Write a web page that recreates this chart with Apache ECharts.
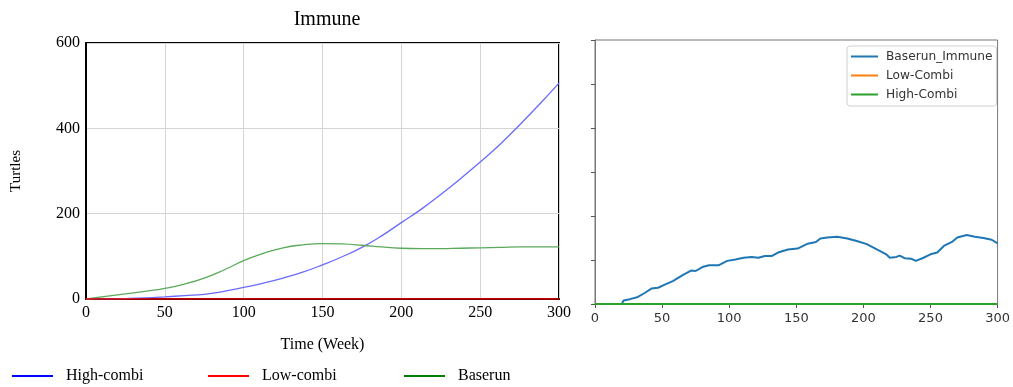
<!DOCTYPE html>
<html>
<head>
<meta charset="utf-8">
<script src="https://cdn.jsdelivr.net/npm/echarts@6/dist/echarts.min.js"></script>
<style>html,body{margin:0;padding:0;background:#fff}#c{width:1013px;height:387px}</style>
</head>
<body>
<div id="c"></div>
<script>
// Left panel (Immune)
const timeL = [0,12.5,25,37.5,50,62.5,75,87.5,100,112.5,125,137.5,150,162.5,175,187.5,200,212.5,225,237.5,250,262.5,275,287.5,300];
const highCombi = [0,0.3,1,2.5,5,8,11,18,27,37,49,63,80,99,121,148,179,210,245,282,321,362,408,456,506];
const lowCombi = [0,0,0,0,0,0,0,0,0,0,0,0,0,0,0,0,0,0,0,0,0,0,0,0,0];
const baserun = [0,6,12,18,25,35,49,68,90,107,120,127,130,129,126,122,119,118,118,119,120,121,122,122,122];
const xTicksL = [0,50,100,150,200,250,300];
const yTicksL = [0,200,400,600];

// Right panel
const timeR = [20,21.3,26,32,37,42,47,52,58,65,71.5,75,80,85,92,98.5,104.6,110.7,116.8,121.7,126.6,131.5,136.4,143.8,151,158.5,164.6,168,173,180.5,188,195,202.5,210,217,219.7,224.6,227,230.7,235.6,239,244,250,255,260,266,270,277,283,289.5,295.6,300];
const baserunImmune = [0,8,11,16,25,35,37,44,52,65,76,75,84,88,88,98,101,105,107,105,109,109,117,124,126,137,141,149,151,153,149,143,136,124,113,105,107,110,104,103,98,104,113,117,132,141,151,157,153,150,146,138];
const timeR2 = [0,300];
const lowCombiR = [0,0];
const highCombiR = [0,0];

const pairs = (xs, ys) => xs.map((x, i) => [x, ys[i]]);
const serif = 'Liberation Serif';
const sans = 'DejaVu Sans';

const chart = echarts.init(document.getElementById('c'), null, {renderer: 'canvas'});
chart.setOption({
  animation: false,
  backgroundColor: '#fff',
  title: {
    text: 'Immune', left: 322, top: 5, textAlign: 'center',
    textStyle: {fontFamily: serif, fontSize: 20, fontWeight: 'normal', color: '#000'}
  },
  legend: [
    {left: 7, top: 363, icon: 'rect', itemWidth: 41, itemHeight: 2,
     data: [{name: 'High-combi', itemStyle: {color: '#0000ff'}}],
     textStyle: {fontFamily: serif, fontSize: 16, color: '#000', padding: [0,0,0,8]}},
    {left: 203, top: 363, icon: 'rect', itemWidth: 41, itemHeight: 2,
     data: [{name: 'Low-combi', itemStyle: {color: '#ff0000'}}],
     textStyle: {fontFamily: serif, fontSize: 16, color: '#000', padding: [0,0,0,8]}},
    {left: 399, top: 363, icon: 'rect', itemWidth: 41, itemHeight: 2,
     data: [{name: 'Baserun', itemStyle: {color: '#008000'}}],
     textStyle: {fontFamily: serif, fontSize: 16, color: '#000', padding: [0,0,0,8]}},
    {left: 847, top: 46, orient: 'vertical', icon: 'rect', itemWidth: 27, itemHeight: 2,
     itemGap: 6, padding: [4, 4, 5, 4],
     backgroundColor: '#fff', borderColor: '#d0d0d0', borderWidth: 1, borderRadius: 3,
     data: ['Baserun_Immune', 'Low-Combi', 'High-Combi'],
     textStyle: {fontFamily: sans, fontSize: 12.2, color: '#333', padding: [0,0,0,3], lineHeight: 13}}
  ],
  grid: [
    {left: 86, right: 1013 - 559, top: 43, bottom: 387 - 299, show: true, borderColor: '#000', borderWidth: 2, backgroundColor: 'transparent'},
    {left: 595, right: 1013 - 1002, top: 40, bottom: 387 - 304, show: true, borderColor: '#777', borderWidth: 1}
  ],
  xAxis: [
    {gridIndex: 0, type: 'value', min: 0, max: 300, interval: 50,
     name: 'Time (Week)', nameLocation: 'middle', nameGap: 38,
     nameTextStyle: {fontFamily: serif, fontSize: 16, color: '#000'},
     axisLine: {show: true, lineStyle: {color: '#000', width: 2}},
     axisTick: {show: false},
     axisLabel: {fontFamily: serif, fontSize: 16, color: '#000', margin: 6},
     splitLine: {show: true, lineStyle: {color: '#d4d4d4', width: 1}}},
    {gridIndex: 1, type: 'value', min: 0, max: 300, interval: 50,
     axisLine: {show: true, lineStyle: {color: '#777', width: 1}},
     axisTick: {show: true, inside: false, length: 4, lineStyle: {color: '#555'}},
     axisLabel: {fontFamily: sans, fontSize: 13, color: '#333', margin: 8},
     splitLine: {show: false}}
  ],
  yAxis: [
    {gridIndex: 0, type: 'value', min: 0, max: 600, interval: 200,
     name: 'Turtles', nameLocation: 'middle', nameGap: 62, nameRotate: 90,
     nameTextStyle: {fontFamily: serif, fontSize: 15, color: '#000'},
     axisLine: {show: true, lineStyle: {color: '#000', width: 2}},
     axisTick: {show: false},
     axisLabel: {fontFamily: serif, fontSize: 16, color: '#000', margin: 6},
     splitLine: {show: true, lineStyle: {color: '#d4d4d4', width: 1}}},
    {gridIndex: 1, type: 'value', min: 0, max: 600, interval: 100,
     axisLine: {show: true, lineStyle: {color: '#777', width: 1}},
     axisTick: {show: true, inside: false, length: 4, lineStyle: {color: '#555'}},
     axisLabel: {show: false},
     splitLine: {show: false}}
  ],
  series: [
    {name: 'High-combi', type: 'line', xAxisIndex: 0, yAxisIndex: 0, smooth: true, showSymbol: false,
     data: pairs(timeL, highCombi), lineStyle: {color: '#6a6aff', width: 1.3}, itemStyle: {color: '#0000ff'}},
    {name: 'Baserun', type: 'line', xAxisIndex: 0, yAxisIndex: 0, smooth: true, showSymbol: false,
     data: pairs(timeL, baserun), lineStyle: {color: '#5aaa5a', width: 1.3}, itemStyle: {color: '#008000'}},
    {name: 'Low-combi', type: 'line', xAxisIndex: 0, yAxisIndex: 0, smooth: true, showSymbol: false,
     data: pairs(timeL, lowCombi), lineStyle: {color: '#ff0000', width: 1.5}, itemStyle: {color: '#ff0000'}},
    {name: 'Baserun_Immune', type: 'line', xAxisIndex: 1, yAxisIndex: 1, showSymbol: false,
     data: pairs(timeR, baserunImmune), lineStyle: {color: '#1f77b4', width: 2}, itemStyle: {color: '#1f77b4'}},
    {name: 'Low-Combi', type: 'line', xAxisIndex: 1, yAxisIndex: 1, showSymbol: false,
     data: pairs(timeR2, lowCombiR), lineStyle: {color: '#ff7f0e', width: 2}, itemStyle: {color: '#ff7f0e'}},
    {name: 'High-Combi', type: 'line', xAxisIndex: 1, yAxisIndex: 1, showSymbol: false,
     data: pairs(timeR2, highCombiR), lineStyle: {color: '#2ca02c', width: 2}, itemStyle: {color: '#2ca02c'}}
  ]
});
</script>
</body>
</html>
